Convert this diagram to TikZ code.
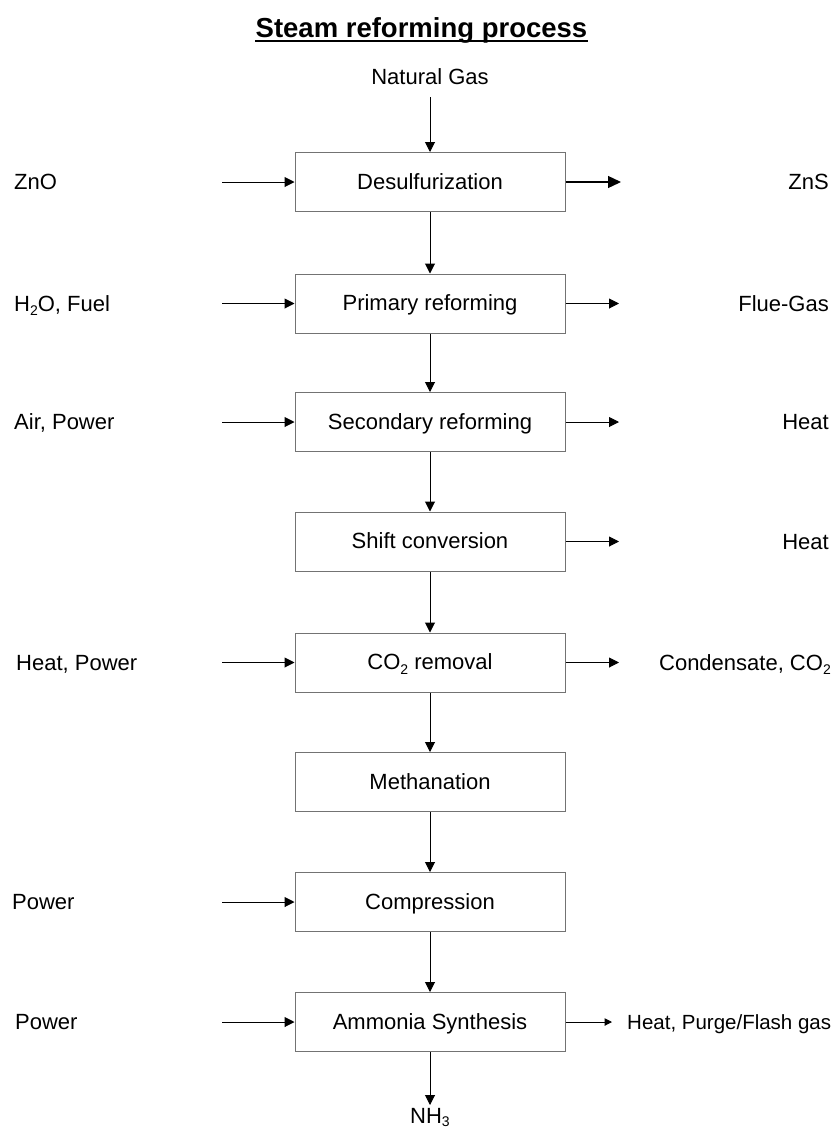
\documentclass[tikz,border=0pt]{standalone}
\usepackage{fontspec}
\setmainfont{Liberation Sans}
\usetikzlibrary{arrows.meta}
\definecolor{boxline}{gray}{0.45}
% chemical subscript, set low and small
\newcommand{\chemsub}[1]{\raisebox{-4.5pt}{\fontsize{14}{14}\selectfont #1}}
\begin{document}
\begin{tikzpicture}[x=1pt,y=-1pt,
  txt/.style={font=\fontsize{22}{26}\selectfont},
  proc/.style={txt, draw=boxline, line width=1pt, minimum width=270pt,
    minimum height=59pt, text height=15.5pt, text depth=1pt, inner sep=0pt},
  lbl/.style={txt, inner sep=0pt},
  flow/.style={-{Triangle[length=10pt,width=10pt]}, line width=1pt},
  bigflow/.style={-{Triangle[length=13pt,width=12pt]}, line width=1.3pt},
  smallflow/.style={-{Triangle[length=7.5pt,width=7.5pt]}, line width=1pt}]
\useasboundingbox (0,0) rectangle (832,1133);

% title
\node[font=\bfseries\fontsize{27.5}{32}\selectfont, inner sep=0pt, anchor=base] (title) at (421.5,37) {Steam reforming process};
\draw[line width=2pt] ([yshift=-3.5pt]title.base west) -- ([yshift=-3.5pt]title.base east);

% process chain
\node[proc] (desulf)  at (430,182)   {Desulfurization};
\node[proc] (primary) at (430,303.5) {Primary reforming};
\node[proc] (second)  at (430,422)   {Secondary reforming};
\node[proc] (shift)   at (430,541.5) {Shift conversion};
\node[proc] (coremov) at (430,662.5) {CO\chemsub{2} removal};
\node[proc] (methan)  at (430,782)   {Methanation};
\node[proc] (compr)   at (430,902)   {Compression};
\node[proc] (synth)   at (430,1022)  {Ammonia Synthesis};

% feed and product
\node[lbl, anchor=base] (ng)  at (430,84)   {Natural Gas};
\node[lbl, anchor=base] (nh3) at (430,1123) {NH\raisebox{-3.5pt}{\fontsize{14}{14}\selectfont 3}};

\draw[flow, shorten <=13pt] (ng) -- (desulf);
\draw[flow] (desulf) -- (primary);
\draw[flow] (primary) -- (second);
\draw[flow] (second) -- (shift);
\draw[flow] (shift) -- (coremov);
\draw[flow] (coremov) -- (methan);
\draw[flow] (methan) -- (compr);
\draw[flow] (compr) -- (synth);
\coordinate (nh3in) at (430,1105);
\draw[flow] (synth) -- (nh3in);

% inputs on the left
\node[lbl, anchor=base west] (inZnO)   at (14,189.5)  {ZnO};
\node[lbl, anchor=base west] (inH2O)   at (14,311)    {H\chemsub{2}O, Fuel};
\node[lbl, anchor=base west] (inAir)   at (14,429.5)  {Air, Power};
\node[lbl, anchor=base west] (inHeat)  at (16,670)    {Heat, Power};
\node[lbl, anchor=base west] (inPow1)  at (12,909.5)  {Power};
\node[lbl, anchor=base west] (inPow2)  at (15,1029.5) {Power};

\coordinate (aZnO)  at (222,182);
\coordinate (aH2O)  at (222,303.5);
\coordinate (aAir)  at (222,422);
\coordinate (aHeat) at (222,662.5);
\coordinate (aPow1) at (222,902);
\coordinate (aPow2) at (222,1022);

\draw[flow] (aZnO)  -- (desulf.west);
\draw[flow] (aH2O)  -- (primary.west);
\draw[flow] (aAir)  -- (second.west);
\draw[flow] (aHeat) -- (coremov.west);
\draw[flow] (aPow1) -- (compr.west);
\draw[flow] (aPow2) -- (synth.west);

% outputs on the right
\node[lbl, anchor=base east] (outZnS)  at (829,189.5) {ZnS};
\node[lbl, anchor=base east] (outFlue) at (829,311)   {Flue-Gas};
\node[lbl, anchor=base east] (outHt1)  at (829,429.5) {Heat};
\node[lbl, anchor=base east] (outHt2)  at (829,549)   {Heat};
\node[lbl, anchor=base east] (outCond) at (831,670)   {Condensate, CO\chemsub{2}};
\node[lbl, anchor=base west, font=\fontsize{20.5}{24}\selectfont] (outPurge) at (627,1029.5) {Heat, Purge/Flash gas};

\coordinate (bZnS)  at (621,182);
\coordinate (bFlue) at (619,303.5);
\coordinate (bHt1)  at (619,422);
\coordinate (bHt2)  at (619,541.5);
\coordinate (bCond) at (619,662.5);
\coordinate (bPurge) at (612,1022);

\draw[bigflow] (desulf.east) -- (bZnS);
\draw[flow] (primary.east) -- (bFlue);
\draw[flow] (second.east) -- (bHt1);
\draw[flow] (shift.east) -- (bHt2);
\draw[flow] (coremov.east) -- (bCond);
\draw[smallflow] (synth.east) -- (bPurge);
\end{tikzpicture}
\end{document}
